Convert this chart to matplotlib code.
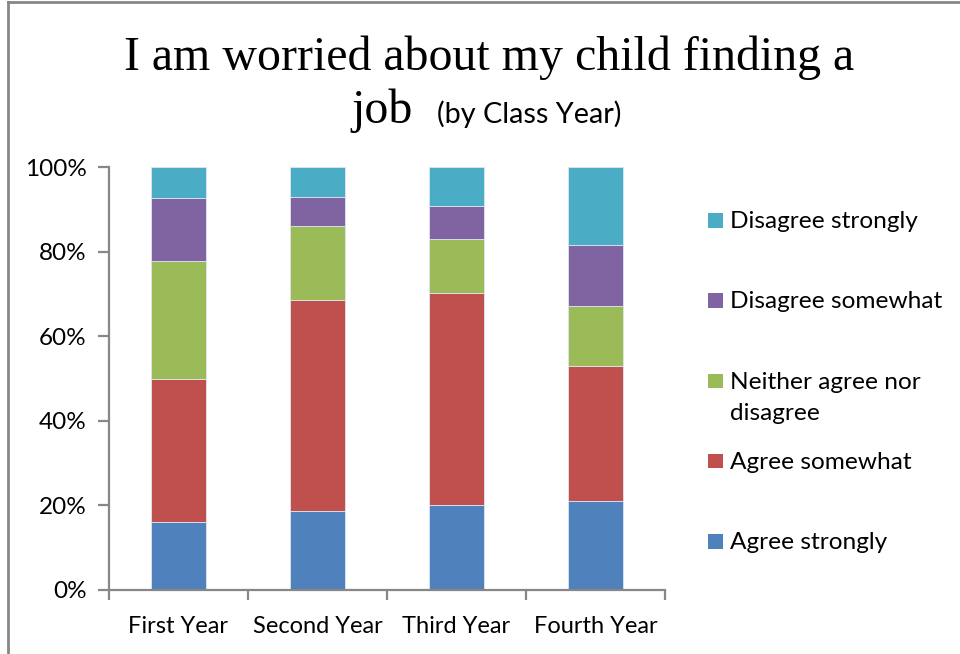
import matplotlib
matplotlib.use("Agg")
import matplotlib.pyplot as plt
from matplotlib.lines import Line2D
from matplotlib.patches import Rectangle
import numpy as np

years = ["First Year", "Second Year", "Third Year", "Fourth Year"]
responses = ["Agree strongly", "Agree somewhat", "Neither agree nor\ndisagree",
             "Disagree somewhat", "Disagree strongly"]
agree_strongly = [16.0, 18.8, 20.0, 21.1]
agree_somewhat = [33.9, 49.7, 50.3, 32.0]
neither = [27.9, 17.7, 12.7, 14.2]
disagree_somewhat = [15.0, 6.8, 7.9, 14.2]
disagree_strongly = [7.2, 7.0, 9.1, 18.5]
colors = ["#4F81BD", "#C0504D", "#9BBB59", "#8064A2", "#4BACC6"]

W, H = 960, 654
fig = plt.figure(figsize=(W / 100, H / 100), dpi=100)
ax = fig.add_axes([109 / W, 1 - 590 / H, (665 - 109) / W, (590 - 167.3) / H])

series = [agree_strongly, agree_somewhat, neither, disagree_somewhat, disagree_strongly]
x = np.arange(len(years))
bottom = np.zeros(len(years))
for vals, lab, c in zip(series, responses, colors):
    ax.bar(x, vals, 0.4, bottom=bottom, color=c, label=lab,
           edgecolor="#dde6f0", linewidth=0.6)
    bottom += np.array(vals)

ax.set_xlim(-0.5, 3.5)
ax.set_ylim(0, 100)
font = "Lato"
gray = "#878787"
for s in ["top", "right"]:
    ax.spines[s].set_visible(False)
for s in ["left", "bottom"]:
    ax.spines[s].set_color(gray)
    ax.spines[s].set_linewidth(1.6)

ax.set_yticks([0, 20, 40, 60, 80, 100])
ax.set_yticklabels(["0%", "20%", "40%", "60%", "80%", "100%"], fontsize=17.5, family=font)
ax.tick_params(axis="y", length=8, width=1.6, color=gray, pad=8)
ax.set_xticks(np.arange(-0.5, 4, 1))
ax.set_xticklabels([])
ax.tick_params(axis="x", which="major", length=7, width=1.6, color=gray)
ax.set_xticks(x, minor=True)
ax.set_xticklabels(years, minor=True, fontsize=17, family=font)
ax.tick_params(axis="x", which="minor", length=0, pad=19)

# legend drawn by hand: evenly spaced slots, top entry = last series
for i, (lab, c) in enumerate(zip(responses[::-1], colors[::-1])):
    yc = 220.5 + i * 80.25
    fig.add_artist(Rectangle((708 / W, 1 - (yc + 7.2) / H), 14.5 / W, 14.5 / H,
                             facecolor=c, edgecolor="none", transform=fig.transFigure))
    for k, line in enumerate(lab.split("\n")):
        fig.text(730 / W, 1 - (yc + 7.5 + k * 32) / H, line, family=font,
                 fontsize=17.6, ha="left", va="baseline")

fig.text(489 / W, 1 - 70 / H, "I am worried about my child finding a",
         family="Liberation Serif", fontsize=34.5, ha="center", va="baseline")
fig.text(413 / W, 1 - 123 / H, "job", family="Liberation Serif", fontsize=34.5,
         ha="right", va="baseline")
fig.text(437 / W, 1 - 123 / H, "(by Class Year)", family=font, fontsize=20.8,
         ha="left", va="baseline")

fig.add_artist(Line2D([8 / W, 1], [1 - 2 / H, 1 - 2 / H], color=gray, lw=2,
                      transform=fig.transFigure))
fig.add_artist(Line2D([8 / W, 8 / W], [0, 1 - 2 / H], color=gray, lw=2,
                      transform=fig.transFigure))

fig.savefig("out.png", dpi=100)
